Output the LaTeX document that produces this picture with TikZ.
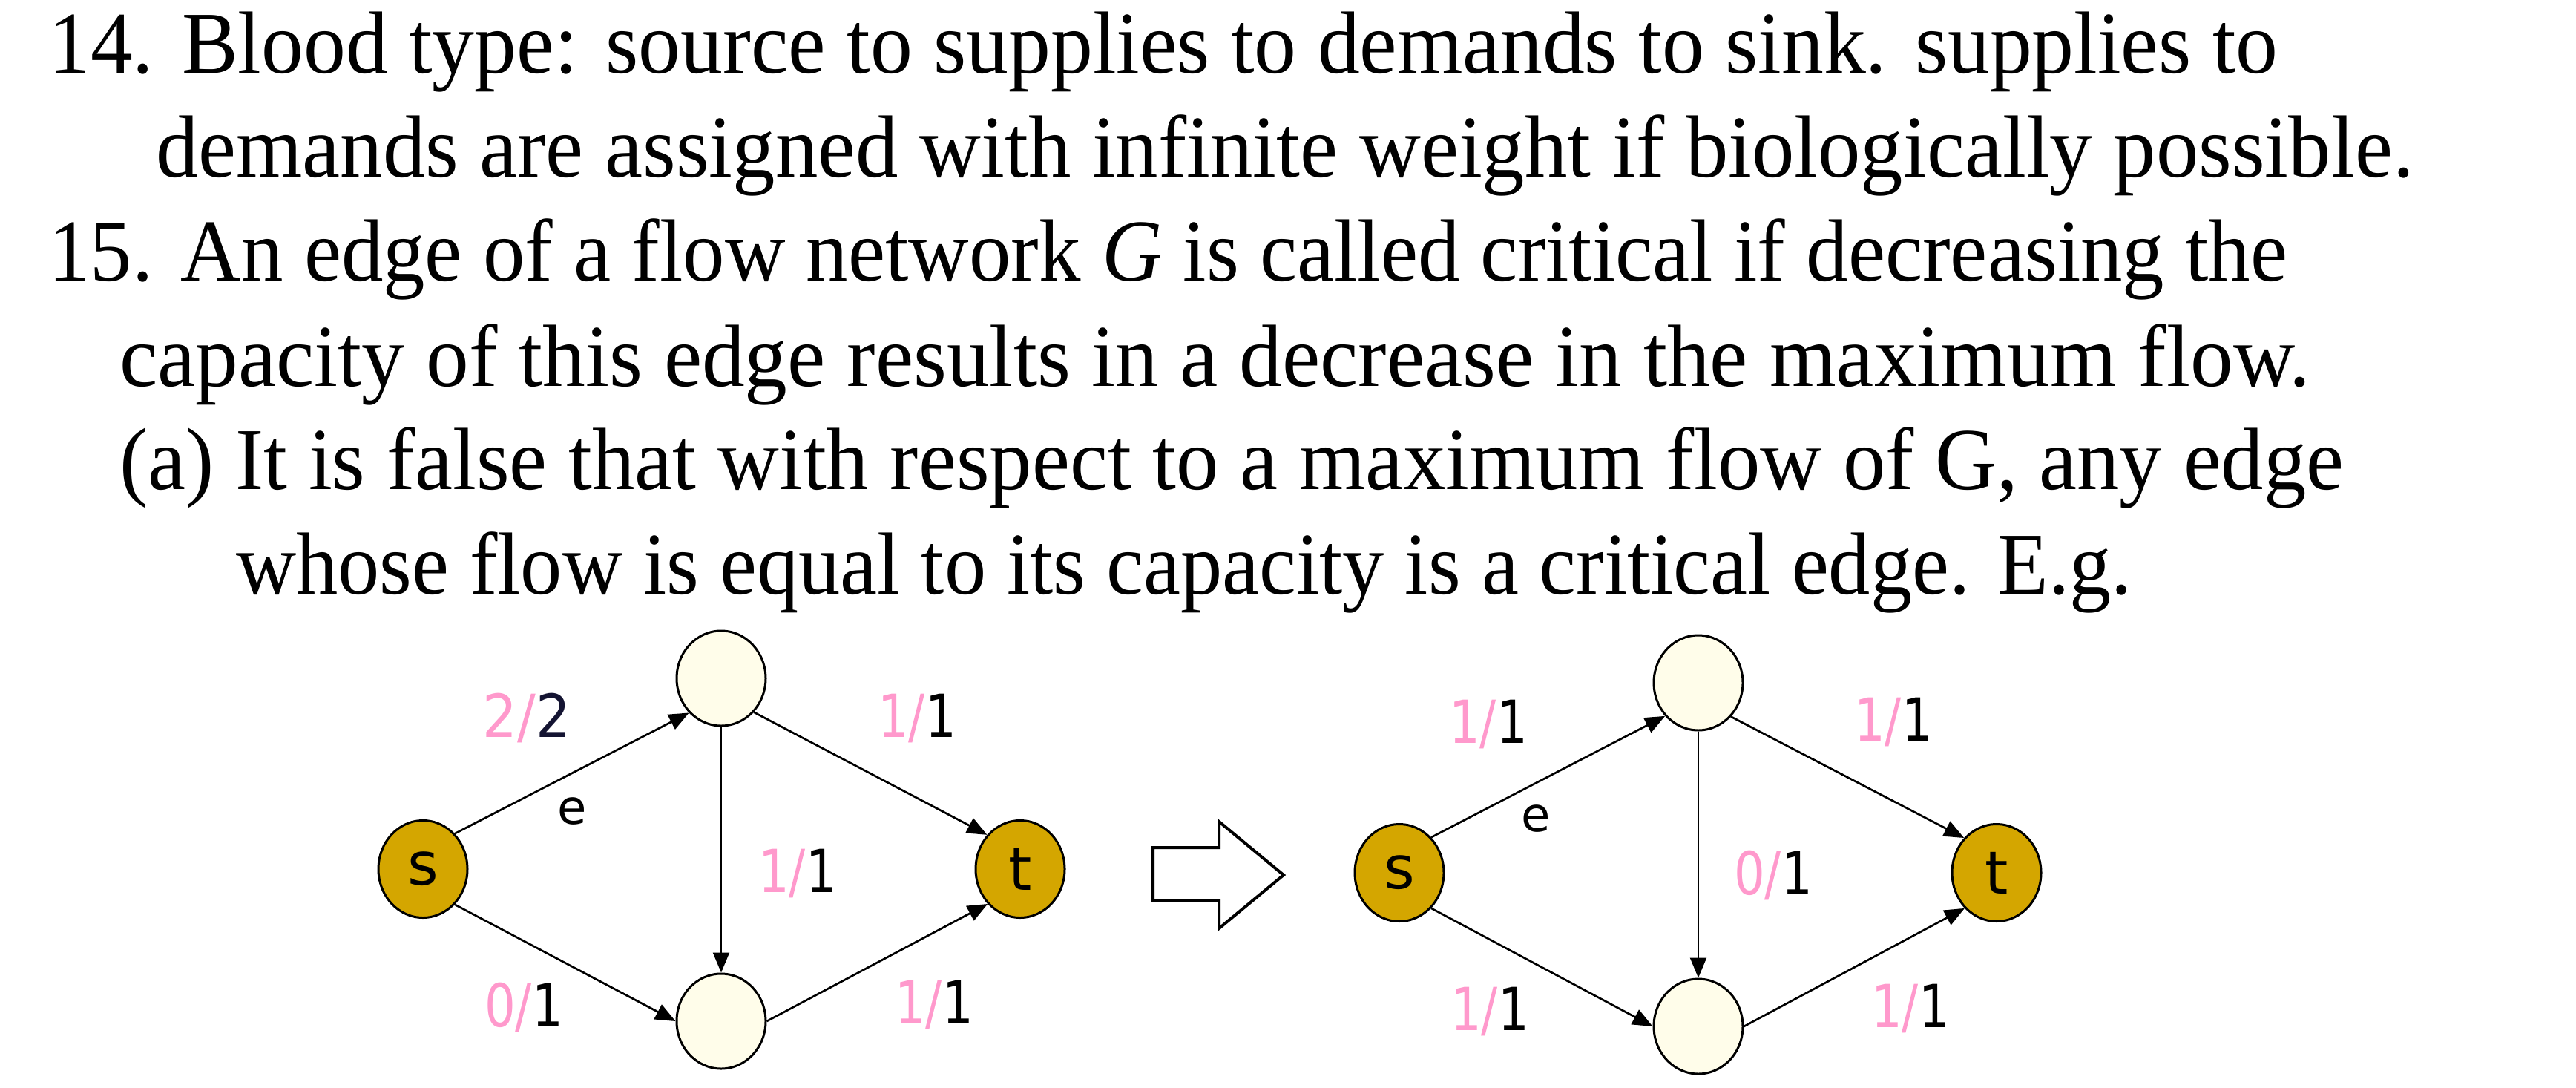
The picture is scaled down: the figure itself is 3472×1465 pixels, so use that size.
\documentclass[tikz,border=0pt]{standalone}
\usepackage{fontspec}
\usepackage{graphicx}
\setmainfont{Liberation Serif}
\newfontfamily\lblfont{DejaVu Sans}
\usetikzlibrary{shapes.geometric,arrows.meta}
\definecolor{gold}{RGB}{212,166,0}
\definecolor{cream}{RGB}{255,253,234}
\definecolor{pinkl}{RGB}{255,153,204}
\definecolor{navy}{RGB}{20,20,50}
\newcommand\tline[5]{\node[anchor=base west,inner sep=0pt] (#1) at (#2,#3) {\resizebox{#4pt}{\height}{#5}};}
\newcommand\fl[2]{\scalebox{0.82}[1]{{\color{pinkl}#1/}#2}}
\tikzset{
  txt/.style={font=\fontsize{119pt}{140pt}\selectfont},
  srcnode/.style={ellipse,draw=black,line width=3pt,fill=gold,minimum width=120pt,minimum height=131pt,inner sep=0pt,font=\lblfont\fontsize{80pt}{90pt}\selectfont},
  midnode/.style={ellipse,draw=black,line width=3pt,fill=cream,minimum width=120pt,minimum height=128pt,inner sep=0pt},
  edge/.style={line width=2.7pt,-{Triangle[length=27pt,width=22pt]}},
  vedge/.style={line width=2.2pt,-{Triangle[length=27pt,width=22pt]}},
  flab/.style={anchor=base,inner sep=0pt,font=\lblfont\fontsize{80pt}{90pt}\selectfont},
  elab/.style={anchor=base,inner sep=0pt,font=\lblfont\fontsize{64pt}{70pt}\selectfont},
}
\begin{document}
\begin{tikzpicture}[x=1pt,y=-1pt]
\useasboundingbox[fill=white] (0,0) rectangle (3472,1465);
% text
\begin{scope}[txt]
\tline{l1}{65}{98}{3005}{14. Blood type: source to supplies to demands to sink. supplies to}
\tline{l2}{210}{238}{3043}{demands are assigned with infinite weight if biologically possible.}
\tline{l3}{65}{378}{3018}{15. An edge of a flow network \textit{G} is called critical if decreasing the}
\tline{l4}{161}{520}{2953}{capacity of this edge results in a decrease in the maximum flow.}
\tline{l5}{161}{659}{2998}{(a) It is false that with respect to a maximum flow of G, any edge}
\tline{l6}{318}{800}{2555}{whose flow is equal to its capacity is a critical edge. E.g.}
\end{scope}
% left graph
\node[srcnode] (s) at (570,1171) {\raisebox{-9pt}{s}};
\node[midnode] (a) at (972,914) {};
\node[midnode] (b) at (972,1376) {};
\node[srcnode] (t) at (1375,1171) {\raisebox{-5pt}{t}};
\draw[edge] (s.48) -- (a.227);
\draw[edge] (s.-48) -- (b.west);
\draw[edge] (a.-46) -- (t.134);
\draw[edge] (b.east) -- (t.227);
\draw[vedge] (a.south) -- (b.north);
\node[flab] (la1) at (710,993) {\scalebox{0.92}[1]{{\color{pinkl}2/}{\color{navy}2}}};
\node[elab] (le1) at (771,1110) {e};
\node[flab] (la2) at (1236,993) {\fl{1}{1}};
\node[flab] (la3) at (1075,1202) {\fl{1}{1}};
\node[flab] (la4) at (706,1383) {\fl{0}{1}};
\node[flab] (la5) at (1259,1379) {\fl{1}{1}};
% block arrow
\draw[line width=4pt,fill=white,line join=miter] (1554,1142) -- (1643,1142) -- (1643,1107) -- (1730,1179) -- (1643,1251) -- (1643,1213) -- (1554,1213) -- cycle;
% right graph
\node[srcnode] (s2) at (1886,1176) {\raisebox{-9pt}{s}};
\node[midnode] (a2) at (2289,920) {};
\node[midnode] (b2) at (2289,1383) {};
\node[srcnode] (t2) at (2691,1176) {\raisebox{-5pt}{t}};
\draw[edge] (s2.48) -- (a2.225);
\draw[edge] (s2.-48) -- (b2.west);
\draw[edge] (a2.-46) -- (t2.133);
\draw[edge] (b2.east) -- (t2.228);
\draw[vedge] (a2.south) -- (b2.north);
\node[flab] (lb1) at (2006,1001) {\fl{1}{1}};
\node[elab] (le2) at (2070,1120) {e};
\node[flab] (lb2) at (2552,998) {\fl{1}{1}};
\node[flab] (lb3) at (2390,1205) {\fl{0}{1}};
\node[flab] (lb4) at (2008,1388) {\fl{1}{1}};
\node[flab] (lb5) at (2575,1384) {\fl{1}{1}};
\end{tikzpicture}
\end{document}
